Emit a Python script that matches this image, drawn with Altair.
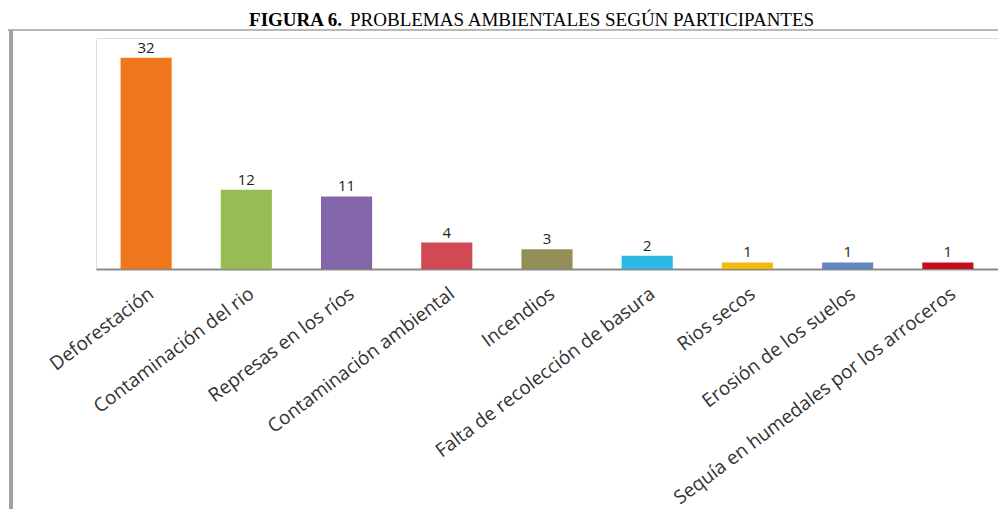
import altair as alt
import pandas as pd

categories = [
    "Deforestación",
    "Contaminación del rio",
    "Represas en los ríos",
    "Contaminación ambiental",
    "Incendios",
    "Falta de recolección de basura",
    "Rios secos",
    "Erosión de los suelos",
    "Sequía en humedales por los arroceros",
]
values = [32, 12, 11, 4, 3, 2, 1, 1, 1]
colors = ["#F07010", "#92B84A", "#7D5EA6", "#CF3F4C", "#8E8850",
          "#1FB4E6", "#F7B500", "#5A80C0", "#C00012"]

title_bold = "FIGURA 6."
title_rest = "PROBLEMAS AMBIENTALES SEGÚN PARTICIPANTES"

df = pd.DataFrame({"cat": categories, "val": values, "col": colors})

x = alt.X("cat:N", sort=categories, title=None,
          scale=alt.Scale(paddingInner=0.49, paddingOuter=0.245),
          axis=alt.Axis(labelAngle=-37, labelFont="Open Sans", labelFontSize=19,
                        labelColor="#333333", labelPadding=15, ticks=False,
                        domainColor="#8a8a8a", domainWidth=2, labelLimit=500,
                        labelOverlap=False))
y = alt.Y("val:Q", title=None, scale=alt.Scale(domain=[0, 34.2]), axis=None)

bars = alt.Chart(df).mark_bar(opacity=0.95).encode(
    x=x, y=y, color=alt.Color("col:N", scale=None))

labels = alt.Chart(df).mark_text(dy=-10, font="Open Sans", fontSize=15,
                                 color="#222222").encode(
    x=alt.X("cat:N", sort=categories), y="val:Q", text="val:Q")

tdf = pd.DataFrame({"a": [title_bold], "b": [title_rest]})
t1 = alt.Chart(tdf).mark_text(font="Liberation Serif", fontSize=19, fontWeight="bold",
                              align="right", baseline="alphabetic", color="#000000").encode(
    x=alt.value(246), y=alt.value(-12), text="a:N")
t2 = alt.Chart(tdf).mark_text(font="Liberation Serif", fontSize=19,
                              align="left", baseline="alphabetic", color="#000000").encode(
    x=alt.value(254), y=alt.value(-12), text="b:N")

frame_top = alt.Chart(tdf).mark_rule(color="#b8b8b8", strokeWidth=2).encode(
    x=alt.value(-88), x2=alt.value(912), y=alt.value(-8))
frame_left = alt.Chart(tdf).mark_rule(color="#a0a0a0", strokeWidth=4).encode(
    x=alt.value(-85), y=alt.value(-8), y2=alt.value(480))

chart = alt.layer(bars, labels, t1, t2, frame_top, frame_left).properties(
    width=902, height=231,
    autosize=alt.AutoSizeParams(type="none"),
    padding={"left": 88, "top": 30, "right": 0, "bottom": 240},
).configure_view(stroke="#c4c4c4", strokeWidth=1).configure(background="#ffffff")

chart.save("out.html", embed_options={"renderer": "svg", "actions": False})
